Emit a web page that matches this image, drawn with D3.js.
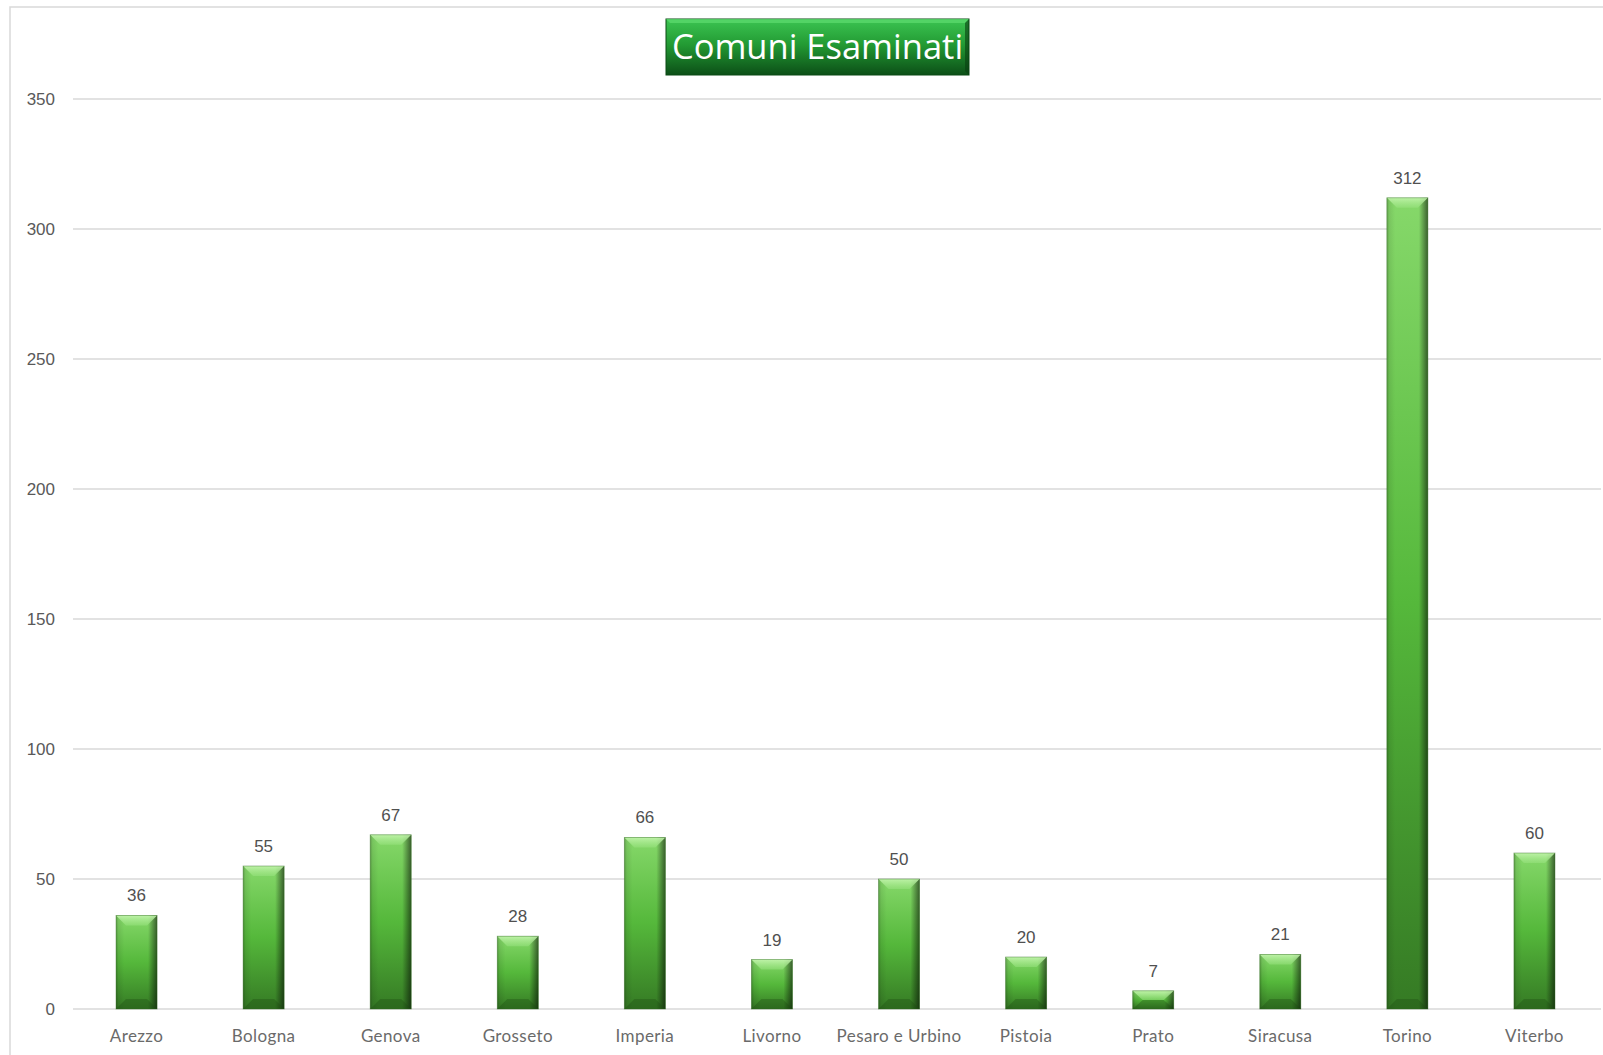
<!DOCTYPE html>
<html>
<head>
<meta charset="utf-8">
<script src="https://cdn.jsdelivr.net/npm/d3@7"></script>
<style>
  html, body { margin: 0; padding: 0; background: #fff; }
  svg { display: block; }
</style>
</head>
<body>
<svg id="chart"></svg>
<script>
// Data
const comuni = ["Arezzo", "Bologna", "Genova", "Grosseto", "Imperia", "Livorno",
  "Pesaro e Urbino", "Pistoia", "Prato", "Siracusa", "Torino", "Viterbo"];
const esaminati = [36, 55, 67, 28, 66, 19, 50, 20, 7, 21, 312, 60];
const yTicks = [0, 50, 100, 150, 200, 250, 300, 350];
const titolo = "Comuni Esaminati";

const W = 1603, H = 1055;
const margin = { top: 99, right: 5, bottom: 46, left: 73 };

const svg = d3.select("#chart").attr("width", W).attr("height", H);
const defs = svg.append("defs");

// bar body gradient (light top -> dark bottom)
const gBody = defs.append("linearGradient").attr("id", "barBody")
  .attr("x1", 0).attr("y1", 0).attr("x2", 0).attr("y2", 1);
gBody.append("stop").attr("offset", "0%").attr("stop-color", "#86d86a");
gBody.append("stop").attr("offset", "50%").attr("stop-color", "#55b83b");
gBody.append("stop").attr("offset", "100%").attr("stop-color", "#357a24");

// side shading (dark right edge, slight dark left edge)
const gSide = defs.append("linearGradient").attr("id", "barSide")
  .attr("x1", 0).attr("y1", 0).attr("x2", 1).attr("y2", 0);
[[0, "#000", 0.25], [0.06, "#000", 0.08], [0.2, "#000", 0], [0.78, "#000", 0],
 [0.88, "#000", 0.25], [1, "#000", 0.55]].forEach(s =>
  gSide.append("stop").attr("offset", s[0]).attr("stop-color", s[1]).attr("stop-opacity", s[2]));

// top bevel gradient
const gTop = defs.append("linearGradient").attr("id", "bevelTop")
  .attr("x1", 0).attr("y1", 0).attr("x2", 0).attr("y2", 1);
gTop.append("stop").attr("offset", "0%").attr("stop-color", "#c4f5ae").attr("stop-opacity", 0.9);
gTop.append("stop").attr("offset", "100%").attr("stop-color", "#9be482").attr("stop-opacity", 0.5);

// title gradient
const gTitle = defs.append("linearGradient").attr("id", "titleGrad")
  .attr("x1", 0).attr("y1", 0).attr("x2", 0).attr("y2", 1);
gTitle.append("stop").attr("offset", "0%").attr("stop-color", "#3cc552");
gTitle.append("stop").attr("offset", "45%").attr("stop-color", "#239b34");
gTitle.append("stop").attr("offset", "100%").attr("stop-color", "#0c4f17");

// chart frame
svg.append("rect")
  .attr("x", 10).attr("y", 7).attr("width", W + 20).attr("height", H + 20)
  .attr("fill", "none").attr("stroke", "#d9d9d9").attr("stroke-width", 1.5);

const x = d3.scaleBand()
  .domain(comuni)
  .range([margin.left, W - margin.right])
  .paddingInner(0.677).paddingOuter(0.3385);

const y = d3.scaleLinear()
  .domain([0, 350])
  .range([H - margin.bottom, margin.top]);

// gridlines
svg.append("g")
  .selectAll("line")
  .data(yTicks)
  .join("line")
  .attr("x1", margin.left).attr("x2", W - 2)
  .attr("y1", d => y(d)).attr("y2", d => y(d))
  .attr("stroke", "#d9d9d9").attr("stroke-width", 1.5);

// y axis labels
const yAxis = svg.append("g")
  .attr("transform", `translate(${margin.left - 18},0)`)
  .call(d3.axisLeft(y).tickValues(yTicks).tickSize(0).tickPadding(0));
yAxis.select(".domain").remove();
yAxis.selectAll("text")
  .attr("fill", "#595959")
  .style("font-family", "'Liberation Sans', Arial, sans-serif")
  .style("font-size", "17px");

// x axis labels
const xAxis = svg.append("g")
  .attr("transform", `translate(0,${y(0) + 21})`)
  .call(d3.axisBottom(x).tickSize(0).tickPadding(0));
xAxis.select(".domain").remove();
xAxis.selectAll("text")
  .attr("fill", "#6a6a6a")
  .style("font-family", "Lato, 'Open Sans', sans-serif")
  .style("font-size", "17px")
  .style("letter-spacing", "0.4px");

// bars
const data = comuni.map((c, i) => ({ name: c, value: esaminati[i] }));
const bw = x.bandwidth();
const bev = 10;

const bars = svg.append("g").selectAll("g")
  .data(data)
  .join("g")
  .attr("transform", d => `translate(${x(d.name)},${y(d.value)})`);

bars.append("rect")
  .attr("width", bw)
  .attr("height", d => y(0) - y(d.value))
  .attr("fill", "url(#barBody)");

bars.append("rect")
  .attr("width", bw)
  .attr("height", d => y(0) - y(d.value))
  .attr("fill", "url(#barSide)");

// top bevel (light)
bars.append("path")
  .attr("d", d => {
    const h = Math.min(bev, (y(0) - y(d.value)) / 2);
    return `M0,0 L${bw},0 L${bw - bev},${h} L${bev},${h} Z`;
  })
  .attr("fill", "url(#bevelTop)");

// bottom bevel (dark)
bars.append("path")
  .attr("d", d => {
    const hh = y(0) - y(d.value);
    const h = Math.min(bev, hh / 2);
    return `M0,${hh} L${bw},${hh} L${bw - bev},${hh - h} L${bev},${hh - h} Z`;
  })
  .attr("fill", "#1c4a12").attr("opacity", 0.35);

// edge outline
bars.append("rect")
  .attr("width", bw)
  .attr("height", d => y(0) - y(d.value))
  .attr("fill", "none")
  .attr("stroke", "#2f6a21").attr("stroke-opacity", 0.5).attr("stroke-width", 0.8);

// value labels
svg.append("g").selectAll("text")
  .data(data)
  .join("text")
  .attr("x", d => x(d.name) + bw / 2)
  .attr("y", d => y(d.value) - 14)
  .attr("text-anchor", "middle")
  .attr("fill", "#505050")
  .style("font-family", "'Liberation Sans', Arial, sans-serif")
  .style("font-size", "17px")
  .text(d => d.value);

// title box
const tg = svg.append("g");
tg.append("rect")
  .attr("x", 666).attr("y", 19).attr("width", 303).attr("height", 56)
  .attr("fill", "url(#titleGrad)").attr("stroke", "#0b4a15").attr("stroke-width", 1);
tg.append("path")
  .attr("d", "M666,19 L969,19 L965,23 L670,23 Z")
  .attr("fill", "#5ad86c").attr("opacity", 0.8);
tg.append("path")
  .attr("d", "M969,19 L969,75 L965,71 L965,23 Z")
  .attr("fill", "#083d10").attr("opacity", 0.6);
tg.append("text")
  .attr("x", 817.5).attr("y", 59)
  .attr("text-anchor", "middle")
  .attr("fill", "#ffffff")
  .style("font-family", "'Open Sans', sans-serif")
  .style("font-size", "34.5px")
  .text(titolo);
</script>
</body>
</html>
